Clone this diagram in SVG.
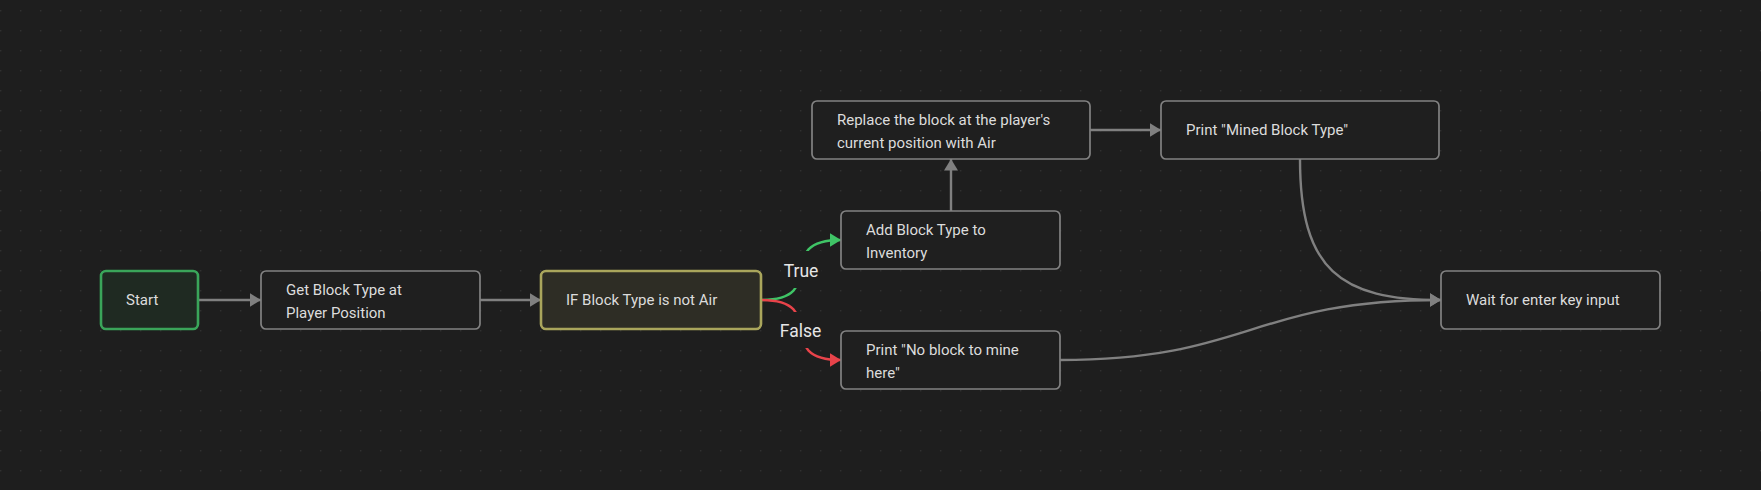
<svg xmlns="http://www.w3.org/2000/svg" width="1761" height="490" viewBox="0 0 1761 490">
  <style>
    .node rect { fill: #1f1f1f; stroke: #828282; stroke-width: 1.7; }
    .node text { font-family: Roboto, "Liberation Sans", sans-serif; font-size: 15px; fill: #dcdcdc; }
    .start rect { fill: #1f2a22; stroke: #3aa55a; stroke-width: 2.6; }
    .cond rect { fill: #2e2d25; stroke: #aaa65c; stroke-width: 2.6; }
    .edge { fill: none; stroke: #808080; stroke-width: 2.4; }
    .edge.true { stroke: #3fc466; }
    .edge.false { stroke: #e8434a; }
    .lbl { font-family: Roboto, "Liberation Sans", sans-serif; font-size: 17.5px; fill: #e6e6e6; text-anchor: middle; }
    .lblbg { fill: #1e1e1e; }
  </style>
  <defs>
    <pattern id="dots" x="-10" y="0" width="20" height="20" patternUnits="userSpaceOnUse">
      <circle cx="10.7" cy="10.7" r="0.8" fill="#323232"/>
    </pattern>
    <marker id="arr" markerUnits="userSpaceOnUse" markerWidth="13" markerHeight="15" refX="11.5" refY="7" orient="auto">
      <path d="M0,0 L11.5,7 L0,14 Z" fill="#808080"/>
    </marker>
    <marker id="arrT" markerUnits="userSpaceOnUse" markerWidth="13" markerHeight="15" refX="11.5" refY="7" orient="auto">
      <path d="M0,0 L11.5,7 L0,14 Z" fill="#3fc466"/>
    </marker>
    <marker id="arrF" markerUnits="userSpaceOnUse" markerWidth="13" markerHeight="15" refX="11.5" refY="7" orient="auto">
      <path d="M0,0 L11.5,7 L0,14 Z" fill="#e8434a"/>
    </marker>
  </defs>
  <rect width="1761" height="490" fill="#1e1e1e"/>
  <rect width="1761" height="490" fill="url(#dots)"/>

  <g id="connectors">
    <path class="edge" d="M198,300 L261,300" marker-end="url(#arr)"/>
    <path class="edge" d="M480,300 L541,300" marker-end="url(#arr)"/>
    <path class="edge true" d="M761,300 C832,300 770,240 841,240" marker-end="url(#arrT)"/>
    <rect class="lblbg" x="781" y="251" width="40" height="37"/>
    <text class="lbl" x="801" y="277">True</text>
    <path class="edge false" d="M761,300 C832,300 770,360 841,360" marker-end="url(#arrF)"/>
    <rect class="lblbg" x="777" y="312" width="48" height="36"/>
    <text class="lbl" x="800.5" y="337">False</text>
    <path class="edge" d="M951,211 L951,159" marker-end="url(#arr)"/>
    <path class="edge" d="M1090,130 L1161,130" marker-end="url(#arr)"/>
    <path class="edge" d="M1300,159 C1300,270 1340,300 1441,300" marker-end="url(#arr)"/>
    <path class="edge" d="M1060,360 C1250,360 1250,300 1441,300" marker-end="url(#arr)"/>
  </g>

  <g id="start" class="node start">
    <rect x="101" y="271" width="97" height="58" rx="5"/>
    <text x="126" y="305">Start</text>
  </g>
  <g id="get-block" class="node">
    <rect x="261" y="271" width="219" height="58" rx="5"/>
    <text x="286" y="295">Get Block Type at</text>
    <text x="286" y="317.5">Player Position</text>
  </g>
  <g id="if-not-air" class="node cond">
    <rect x="541" y="271" width="220" height="58" rx="5"/>
    <text x="566" y="305">IF Block Type is not Air</text>
  </g>
  <g id="add-inventory" class="node">
    <rect x="841" y="211" width="219" height="58" rx="5"/>
    <text x="866" y="235">Add Block Type to</text>
    <text x="866" y="257.5">Inventory</text>
  </g>
  <g id="replace-air" class="node">
    <rect x="812" y="101" width="278" height="58" rx="5"/>
    <text x="837" y="125">Replace the block at the player's</text>
    <text x="837" y="147.5">current position with Air</text>
  </g>
  <g id="print-mined" class="node">
    <rect x="1161" y="101" width="278" height="58" rx="5"/>
    <text x="1186" y="135">Print "Mined Block Type"</text>
  </g>
  <g id="print-none" class="node">
    <rect x="841" y="331" width="219" height="58" rx="5"/>
    <text x="866" y="355">Print "No block to mine</text>
    <text x="866" y="377.5">here"</text>
  </g>
  <g id="wait-enter" class="node">
    <rect x="1441" y="271" width="219" height="58" rx="5"/>
    <text x="1466" y="305">Wait for enter key input</text>
  </g>
</svg>
